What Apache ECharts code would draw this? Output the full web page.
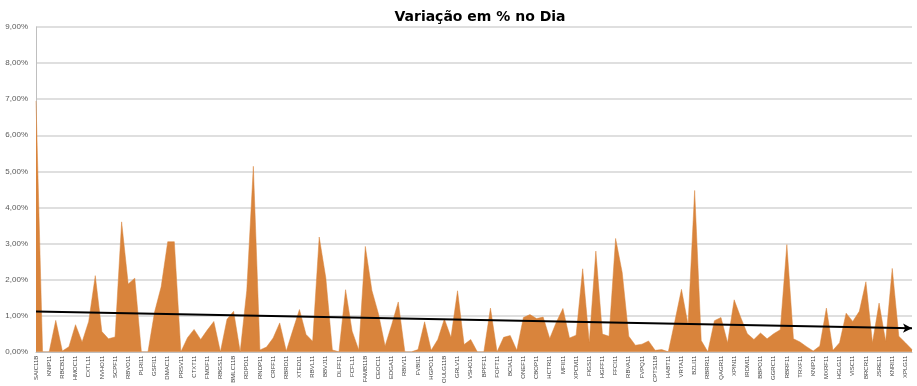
<!DOCTYPE html>
<html><head><meta charset="utf-8">
<script src="https://cdn.jsdelivr.net/npm/echarts@6/dist/echarts.min.js"></script>
<style>html,body{margin:0;padding:0;background:#fff}#c{width:917px;height:386px}</style>
</head><body><div id="c"></div>
<script>
const categories = [
'SAIC11B','ALZR11','KNIP11','BCFF11','RBCB11','BRCO11','HMOC11','BTLG11','CXTL11','CPFF11',
'NVHO11','DEVA11','SCPF11','GALG11','RBVO11','GTWR11','PLRI11','HCRI11','GSFI11','HFOF11',
'DMAC11','HGBS11','PRSV11','HGCR11','CTXT11','HGRE11','FMOF11','HGRU11','RBGS11','HSLG11',
'BMLC11B','HSML11','RDPD11','JSAF11','RNDP11','KNCR11','CRFF11','KNHY11','RBRD11','KNSC11',
'XTED11','LVBI11','RBVL11','MALL11','BBVJ11','MCCI11','DLFF11','MGFF11','FCFL11','NEWL11',
'FAMB11B','OUJP11','CEOC11','PATL11','EDGA11','PVBI11','RBIV11','RBRP11','FVBI11','RBRY11',
'HGPO11','RCRB11','OULG11B','RECR11','GRLV11','RECT11','VSHO11','RZAK11','BPFF11','RZTR11',
'FOFT11','SDIL11','BCIA11','SNCI11','ONEF11','TGAR11','CBOP11','TORD11','HCTR11','TRXB11',
'MFII11','URPR11','XPCM11','VGHF11','FIGS11','VGIP11','HGFF11','VGIR11','FFCI11','VILG11',
'RBVA11','VINO11','FVPQ11','VIUR11','CPTS11B','XPCI11','HABT11','XPML11','VRTA11','XPSF11',
'BZLI11','BBFI11B','RBRR11','BLMG11','QAGR11','BPML11','XPIN11','BRLA11','IRDM11','CARE11',
'BBPO11','CNES11','GGRC11','EURO11','RBRF11','FIIB11','TRXF11','FIIP11B','KNIP11','HBRH11',
'MXRF11','HUSC11','HGLG11','JFLL11','VISC11','KISU11','BRCR11','LOFT11','JSRE11','NSLU11',
'KNRI11','PQDP11','XPLG11','WPLZ11'
];
const values = [
6.95,0,0,0.87,0.02,0.14,0.75,0.27,0.84,2.11,
0.56,0.36,0.41,3.6,1.88,2.04,0,0,1.1,1.8,
3.05,3.05,0,0.39,0.62,0.34,0.6,0.84,0,0.9,
1.12,0,1.7,5.14,0.05,0.13,0.38,0.8,0.02,0.6,
1.17,0.48,0.29,3.18,2.05,0.05,0,1.72,0.57,0.05,
2.92,1.7,1.05,0.16,0.75,1.38,0,0,0.06,0.83,
0.04,0.34,0.91,0.4,1.69,0.2,0.34,0,0,1.21,
0,0.4,0.45,0.04,0.95,1.03,0.92,0.96,0.37,0.82,
1.2,0.38,0.46,2.3,0.26,2.79,0.49,0.43,3.14,2.2,
0.43,0.18,0.21,0.3,0.04,0.06,0,0.85,1.73,0.75,
4.47,0.31,0,0.86,0.95,0.25,1.44,0.95,0.5,0.34,
0.52,0.36,0.5,0.61,2.97,0.36,0.27,0.14,0.02,0.16,
1.21,0.04,0.25,1.07,0.84,1.12,1.94,0.25,1.35,0.29,
2.31,0.43,0.25,0.06
];
const yMin = 0, yMax = 9, yInterval = 1;
const titleText = 'Variação em % no Dia';

// linear trendline (least squares) computed from the values
const n = values.length;
let sx = 0, sy = 0, sxx = 0, sxy = 0;
values.forEach((v, i) => { sx += i; sy += v; sxx += i * i; sxy += i * v; });
const slope = (n * sxy - sx * sy) / (n * sxx - sx * sx);
const icpt = (sy - slope * sx) / n;

const chart = echarts.init(document.getElementById('c'), null, {renderer: 'canvas'});
chart.setOption({
  animation: false,
  title: {
    text: titleText, left: 475, top: 5, textAlign: 'center',
    textStyle: {fontFamily: 'DejaVu Sans', fontWeight: 'bold', fontSize: 14, color: '#000'}
  },
  grid: {left: 36, right: 5, top: 27, bottom: 32},
  xAxis: {
    type: 'category', data: categories, boundaryGap: false,
    axisLine: {show: true, lineStyle: {color: '#bfbfbf', width: 1}},
    axisTick: {show: false},
    axisLabel: {interval: 1, rotate: 90, fontSize: 6, color: '#404040', fontFamily: 'Liberation Sans', margin: 4},
    splitLine: {show: false}
  },
  yAxis: {
    type: 'value', min: yMin, max: yMax, interval: yInterval,
    axisLine: {show: true, lineStyle: {color: '#bfbfbf', width: 1}},
    axisTick: {show: false},
    axisLabel: {formatter: v => v.toFixed(2).replace('.', ',') + '%', fontSize: 8, color: '#595959', fontFamily: 'Liberation Sans', margin: 8},
    splitLine: {show: true, lineStyle: {color: '#d4d4d4', width: 1.5}}
  },
  series: [{
    type: 'line', data: values, symbol: 'none',
    lineStyle: {width: 0.5, color: '#d9843c'},
    areaStyle: {color: '#d9843c', opacity: 1},
    markLine: {
      silent: true, symbol: ['none', 'arrow'], symbolSize: [7, 9],
      label: {show: false},
      lineStyle: {color: '#000', width: 2, type: 'solid'},
      data: [[{coord: [categories[0], icpt]}, {coord: [categories[n - 1], icpt + slope * (n - 1)]}]]
    }
  }]
});
</script>
</body></html>
